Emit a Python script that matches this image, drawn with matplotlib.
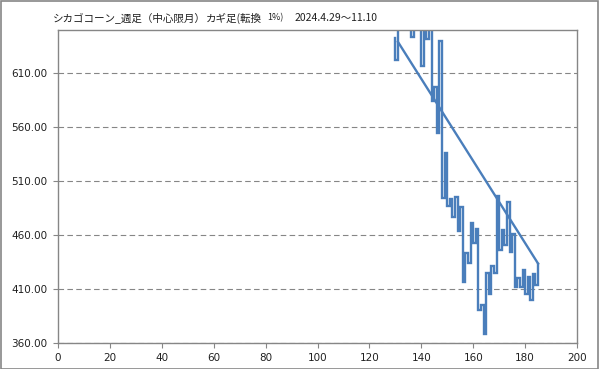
import numpy as np
import matplotlib
matplotlib.use('Agg')
import matplotlib.pyplot as plt
from matplotlib.patches import Rectangle

plt.rcParams['font.family'] = ['Noto Sans CJK JP', 'DejaVu Sans']

# kagi turning points, one per reversal (x = reversal count)
kagi_x = np.arange(130, 186)
kagi_y = [622.0, 668, 656, 670, 658, 666, 643.6, 662, 655, 664,
          616.5, 660, 642.1, 662, 584.4, 597.0, 554.4, 639.4, 494.3, 536.4,
          486.9, 493.0, 477.0, 495.5, 464.0, 486.2, 416.8, 443.0, 433.8, 470.8,
          452.6, 465.3, 390.6, 395.6, 368.8, 424.5, 405.4, 431.3, 424.5, 496.1,
          446.1, 465.1, 450.7, 490.8, 444.5, 460.9, 411.9, 420.6, 412.1, 428.0,
          405.8, 420.8, 400.3, 423.9, 414.2, 433.6]
start_y = 642.4

# straight line drawn over the kagi
trend_x = [131, 185]
trend_y = [639.0, 433.6]

x_ticks = np.arange(0, 201, 20)
y_ticks = np.arange(360, 611, 50)

title_parts = ['シカゴコーン_週足（中心限月）', 'カギ足(転換', '1%)', '2024.4.29〜11.10']

W, H = 599, 369
fig = plt.figure(figsize=(W / 100, H / 100), dpi=100)
ax = fig.add_axes([58 / W, 1 - 343 / H, (577 - 58) / W, (343 - 30) / H])

# step path: vertical at each x, then one unit across
path_x = np.repeat(kagi_x, 2)
path_y = np.concatenate([[start_y], np.repeat(kagi_y, 2)[:-1]])

blue = '#4a7ebb'
ax.plot(path_x, path_y, color=blue, lw=1.7, solid_joinstyle='miter')
ax.plot(trend_x, trend_y, color=blue, lw=1.7)

ax.set_xlim(0, 200)
ax.set_ylim(360, 650)
ax.set_xticks(x_ticks)
ax.set_yticks(y_ticks)
ax.set_yticklabels(['{:.2f}'.format(v) for v in y_ticks])
ax.yaxis.grid(True, ls=(0, (5, 3)), color='#868686', lw=0.8)
ax.set_axisbelow(True)
for s in ax.spines.values():
    s.set_color('#868686')
    s.set_linewidth(1)
ax.tick_params(direction='out', length=3.5, width=0.8, color='#868686',
               labelsize=7.5, labelcolor='#202020', pad=4)
for lab in ax.get_xticklabels() + ax.get_yticklabels():
    lab.set_family('DejaVu Sans')

# title pieces, placed by pixel
fig.text(53 / W, 1 - 18 / H, title_parts[0], fontsize=7.6, va='center', color='#202020')
fig.text(206 / W, 1 - 18 / H, title_parts[1], fontsize=7.6, va='center', color='#202020')
fig.text(267 / W, 1 - 18 / H, title_parts[2], fontsize=6.5, va='center', color='#202020')
fig.text(295 / W, 1 - 18 / H, title_parts[3], fontsize=7.5, va='center', color='#202020')

fig.patches.append(Rectangle((0.5 / W, 0.5 / H), 1 - 1.5 / W, 1 - 1.5 / H,
                             transform=fig.transFigure, fill=False,
                             ec='#868686', lw=1.2))

fig.savefig('out.png', dpi=100)
